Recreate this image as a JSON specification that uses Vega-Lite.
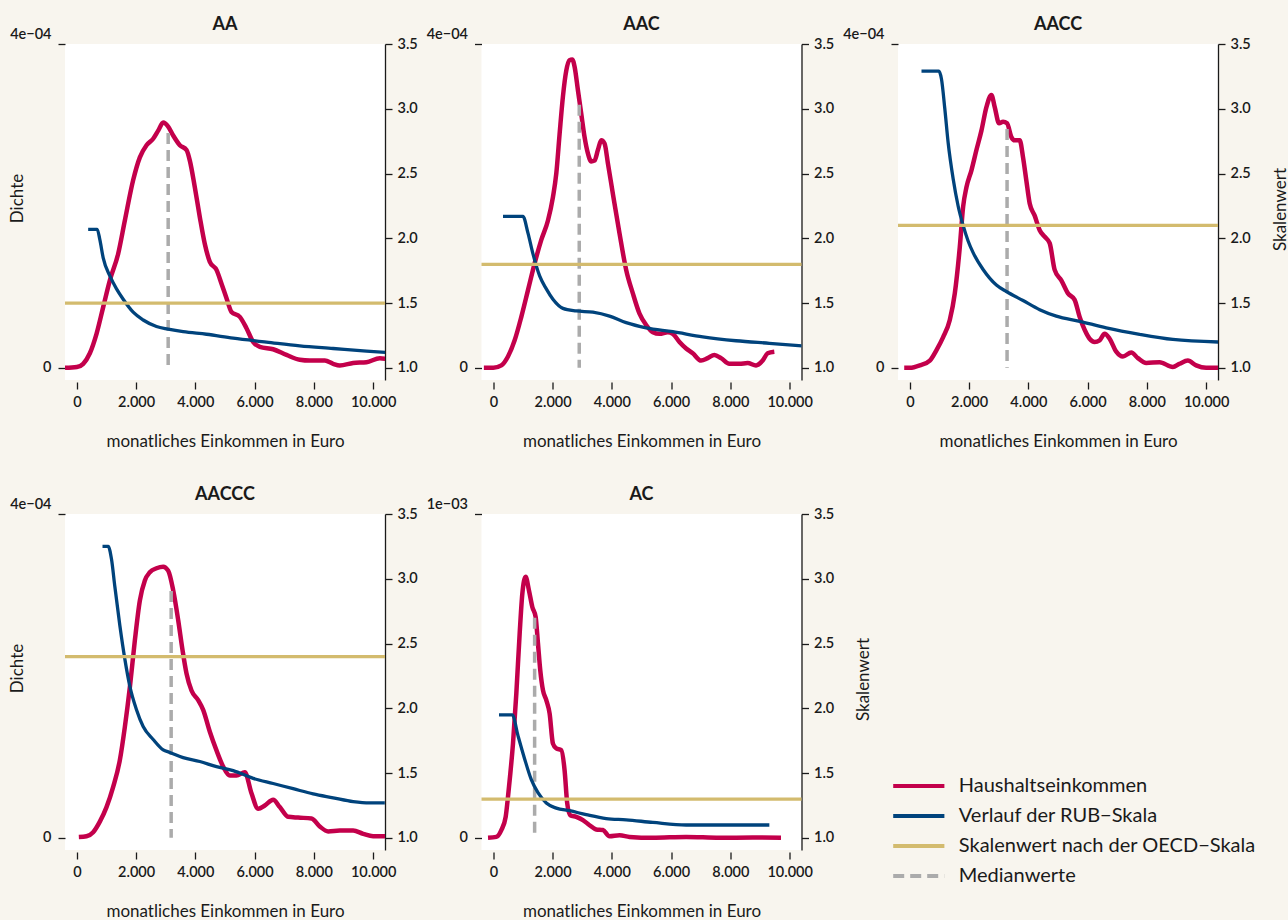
{
  "$schema": "https://vega.github.io/schema/vega-lite/v6.json",
  "background": "#F8F5EE",
  "padding": {"left": 8, "top": 16, "right": 2, "bottom": 0},
  "columns": 3,
  "bounds": "flush",
  "spacing": {"row": 134, "column": 96.5},
  "datasets": {
    "density": [
      {"g":"AA","x":-400,"d":0},{"g":"AA","x":0,"d":0.01e-4},{"g":"AA","x":214,"d":0.05e-4},{"g":"AA","x":439,"d":0.18e-4},{"g":"AA","x":664,"d":0.42e-4},{"g":"AA","x":889,"d":0.75e-4},{"g":"AA","x":1114,"d":1.08e-4},{"g":"AA","x":1395,"d":1.41e-4},{"g":"AA","x":1620,"d":1.82e-4},{"g":"AA","x":1901,"d":2.32e-4},{"g":"AA","x":2126,"d":2.60e-4},{"g":"AA","x":2351,"d":2.75e-4},{"g":"AA","x":2576,"d":2.83e-4},{"g":"AA","x":2745,"d":2.93e-4},{"g":"AA","x":2913,"d":3.03e-4},{"g":"AA","x":3082,"d":2.98e-4},{"g":"AA","x":3251,"d":2.87e-4},{"g":"AA","x":3476,"d":2.75e-4},{"g":"AA","x":3701,"d":2.69e-4},{"g":"AA","x":3813,"d":2.56e-4},{"g":"AA","x":3982,"d":2.23e-4},{"g":"AA","x":4151,"d":1.86e-4},{"g":"AA","x":4319,"d":1.53e-4},{"g":"AA","x":4488,"d":1.31e-4},{"g":"AA","x":4713,"d":1.21e-4},{"g":"AA","x":4882,"d":1.04e-4},{"g":"AA","x":5051,"d":0.86e-4},{"g":"AA","x":5219,"d":0.69e-4},{"g":"AA","x":5500,"d":0.63e-4},{"g":"AA","x":5725,"d":0.49e-4},{"g":"AA","x":5950,"d":0.32e-4},{"g":"AA","x":6175,"d":0.26e-4},{"g":"AA","x":6625,"d":0.23e-4},{"g":"AA","x":7075,"d":0.16e-4},{"g":"AA","x":7525,"d":0.10e-4},{"g":"AA","x":7863,"d":0.09e-4},{"g":"AA","x":8369,"d":0.09e-4},{"g":"AA","x":8650,"d":0.05e-4},{"g":"AA","x":8875,"d":0.03e-4},{"g":"AA","x":9325,"d":0.06e-4},{"g":"AA","x":9775,"d":0.07e-4},{"g":"AA","x":10225,"d":0.12e-4},{"g":"AA","x":10450,"d":0.11e-4},
      {"g":"AAC","x":-320,"d":0},{"g":"AAC","x":0,"d":0},{"g":"AAC","x":270,"d":0.03e-4},{"g":"AAC","x":494,"d":0.14e-4},{"g":"AAC","x":719,"d":0.34e-4},{"g":"AAC","x":944,"d":0.63e-4},{"g":"AAC","x":1169,"d":0.96e-4},{"g":"AAC","x":1393,"d":1.29e-4},{"g":"AAC","x":1618,"d":1.58e-4},{"g":"AAC","x":1843,"d":1.82e-4},{"g":"AAC","x":2011,"d":2.11e-4},{"g":"AAC","x":2124,"d":2.40e-4},{"g":"AAC","x":2236,"d":2.89e-4},{"g":"AAC","x":2348,"d":3.35e-4},{"g":"AAC","x":2461,"d":3.67e-4},{"g":"AAC","x":2573,"d":3.80e-4},{"g":"AAC","x":2663,"d":3.81e-4},{"g":"AAC","x":2742,"d":3.72e-4},{"g":"AAC","x":2854,"d":3.43e-4},{"g":"AAC","x":2966,"d":3.14e-4},{"g":"AAC","x":3079,"d":2.85e-4},{"g":"AAC","x":3191,"d":2.65e-4},{"g":"AAC","x":3303,"d":2.55e-4},{"g":"AAC","x":3416,"d":2.56e-4},{"g":"AAC","x":3528,"d":2.69e-4},{"g":"AAC","x":3640,"d":2.81e-4},{"g":"AAC","x":3753,"d":2.77e-4},{"g":"AAC","x":3865,"d":2.53e-4},{"g":"AAC","x":4034,"d":2.15e-4},{"g":"AAC","x":4258,"d":1.66e-4},{"g":"AAC","x":4483,"d":1.21e-4},{"g":"AAC","x":4708,"d":0.92e-4},{"g":"AAC","x":4933,"d":0.67e-4},{"g":"AAC","x":5157,"d":0.53e-4},{"g":"AAC","x":5382,"d":0.44e-4},{"g":"AAC","x":5607,"d":0.42e-4},{"g":"AAC","x":5888,"d":0.44e-4},{"g":"AAC","x":6056,"d":0.42e-4},{"g":"AAC","x":6281,"d":0.32e-4},{"g":"AAC","x":6506,"d":0.24e-4},{"g":"AAC","x":6730,"d":0.18e-4},{"g":"AAC","x":7011,"d":0.09e-4},{"g":"AAC","x":7236,"d":0.12e-4},{"g":"AAC","x":7461,"d":0.16e-4},{"g":"AAC","x":7685,"d":0.12e-4},{"g":"AAC","x":7966,"d":0.05e-4},{"g":"AAC","x":8303,"d":0.05e-4},{"g":"AAC","x":8584,"d":0.06e-4},{"g":"AAC","x":8865,"d":0.03e-4},{"g":"AAC","x":9090,"d":0.09e-4},{"g":"AAC","x":9258,"d":0.18e-4},{"g":"AAC","x":9483,"d":0.20e-4},
      {"g":"AACC","x":-190,"d":0},{"g":"AACC","x":0,"d":0},{"g":"AACC","x":337,"d":0.03e-4},{"g":"AACC","x":674,"d":0.09e-4},{"g":"AACC","x":899,"d":0.22e-4},{"g":"AACC","x":1124,"d":0.38e-4},{"g":"AACC","x":1348,"d":0.59e-4},{"g":"AACC","x":1517,"d":0.92e-4},{"g":"AACC","x":1685,"d":1.49e-4},{"g":"AACC","x":1798,"d":1.99e-4},{"g":"AACC","x":1910,"d":2.23e-4},{"g":"AACC","x":2079,"d":2.44e-4},{"g":"AACC","x":2247,"d":2.69e-4},{"g":"AACC","x":2416,"d":2.93e-4},{"g":"AACC","x":2584,"d":3.22e-4},{"g":"AACC","x":2753,"d":3.37e-4},{"g":"AACC","x":2865,"d":3.22e-4},{"g":"AACC","x":3011,"d":3.02e-4},{"g":"AACC","x":3146,"d":3.04e-4},{"g":"AACC","x":3281,"d":3.02e-4},{"g":"AACC","x":3427,"d":2.85e-4},{"g":"AACC","x":3539,"d":2.81e-4},{"g":"AACC","x":3708,"d":2.81e-4},{"g":"AACC","x":3820,"d":2.60e-4},{"g":"AACC","x":3933,"d":2.31e-4},{"g":"AACC","x":4045,"d":2.03e-4},{"g":"AACC","x":4213,"d":1.88e-4},{"g":"AACC","x":4382,"d":1.70e-4},{"g":"AACC","x":4551,"d":1.62e-4},{"g":"AACC","x":4719,"d":1.54e-4},{"g":"AACC","x":4888,"d":1.21e-4},{"g":"AACC","x":5112,"d":1.08e-4},{"g":"AACC","x":5337,"d":0.92e-4},{"g":"AACC","x":5562,"d":0.84e-4},{"g":"AACC","x":5730,"d":0.63e-4},{"g":"AACC","x":5899,"d":0.47e-4},{"g":"AACC","x":6067,"d":0.36e-4},{"g":"AACC","x":6236,"d":0.32e-4},{"g":"AACC","x":6404,"d":0.34e-4},{"g":"AACC","x":6573,"d":0.42e-4},{"g":"AACC","x":6742,"d":0.36e-4},{"g":"AACC","x":6966,"d":0.20e-4},{"g":"AACC","x":7191,"d":0.14e-4},{"g":"AACC","x":7472,"d":0.19e-4},{"g":"AACC","x":7697,"d":0.12e-4},{"g":"AACC","x":7978,"d":0.06e-4},{"g":"AACC","x":8427,"d":0.07e-4},{"g":"AACC","x":8876,"d":0.01e-4},{"g":"AACC","x":9101,"d":0.05e-4},{"g":"AACC","x":9382,"d":0.09e-4},{"g":"AACC","x":9663,"d":0.03e-4},{"g":"AACC","x":10000,"d":0},{"g":"AACC","x":10400,"d":0},
      {"g":"AACCC","x":67,"d":0.01e-4},{"g":"AACCC","x":326,"d":0.02e-4},{"g":"AACCC","x":551,"d":0.07e-4},{"g":"AACCC","x":776,"d":0.20e-4},{"g":"AACCC","x":1001,"d":0.38e-4},{"g":"AACCC","x":1226,"d":0.63e-4},{"g":"AACCC","x":1451,"d":0.96e-4},{"g":"AACCC","x":1620,"d":1.37e-4},{"g":"AACCC","x":1789,"d":1.86e-4},{"g":"AACCC","x":1958,"d":2.44e-4},{"g":"AACCC","x":2126,"d":2.93e-4},{"g":"AACCC","x":2295,"d":3.18e-4},{"g":"AACCC","x":2463,"d":3.28e-4},{"g":"AACCC","x":2688,"d":3.33e-4},{"g":"AACCC","x":2913,"d":3.35e-4},{"g":"AACCC","x":3082,"d":3.30e-4},{"g":"AACCC","x":3251,"d":3.06e-4},{"g":"AACCC","x":3420,"d":2.69e-4},{"g":"AACCC","x":3566,"d":2.32e-4},{"g":"AACCC","x":3701,"d":2.03e-4},{"g":"AACCC","x":3869,"d":1.82e-4},{"g":"AACCC","x":4094,"d":1.70e-4},{"g":"AACCC","x":4263,"d":1.58e-4},{"g":"AACCC","x":4488,"d":1.31e-4},{"g":"AACCC","x":4713,"d":1.08e-4},{"g":"AACCC","x":4938,"d":0.88e-4},{"g":"AACCC","x":5163,"d":0.77e-4},{"g":"AACCC","x":5388,"d":0.77e-4},{"g":"AACCC","x":5669,"d":0.81e-4},{"g":"AACCC","x":5894,"d":0.55e-4},{"g":"AACCC","x":6119,"d":0.36e-4},{"g":"AACCC","x":6344,"d":0.40e-4},{"g":"AACCC","x":6625,"d":0.47e-4},{"g":"AACCC","x":6850,"d":0.38e-4},{"g":"AACCC","x":7132,"d":0.26e-4},{"g":"AACCC","x":7469,"d":0.25e-4},{"g":"AACCC","x":7919,"d":0.24e-4},{"g":"AACCC","x":8200,"d":0.14e-4},{"g":"AACCC","x":8481,"d":0.08e-4},{"g":"AACCC","x":8875,"d":0.09e-4},{"g":"AACCC","x":9325,"d":0.09e-4},{"g":"AACCC","x":9663,"d":0.05e-4},{"g":"AACCC","x":10000,"d":0.02e-4},{"g":"AACCC","x":10400,"d":0.02e-4},
      {"g":"AC","x":-180,"d":0},{"g":"AC","x":101,"d":0.03e-4},{"g":"AC","x":270,"d":0.24e-4},{"g":"AC","x":416,"d":0.65e-4},{"g":"AC","x":494,"d":1.27e-4},{"g":"AC","x":573,"d":1.99e-4},{"g":"AC","x":663,"d":2.91e-4},{"g":"AC","x":775,"d":4.45e-4},{"g":"AC","x":888,"d":6.31e-4},{"g":"AC","x":978,"d":7.54e-4},{"g":"AC","x":1090,"d":8.06e-4},{"g":"AC","x":1202,"d":7.64e-4},{"g":"AC","x":1315,"d":7.13e-4},{"g":"AC","x":1427,"d":6.82e-4},{"g":"AC","x":1506,"d":6.00e-4},{"g":"AC","x":1584,"d":5.17e-4},{"g":"AC","x":1674,"d":4.56e-4},{"g":"AC","x":1787,"d":4.25e-4},{"g":"AC","x":1899,"d":3.84e-4},{"g":"AC","x":2011,"d":2.91e-4},{"g":"AC","x":2124,"d":2.76e-4},{"g":"AC","x":2292,"d":2.71e-4},{"g":"AC","x":2404,"d":2.09e-4},{"g":"AC","x":2494,"d":1.06e-4},{"g":"AC","x":2596,"d":0.70e-4},{"g":"AC","x":2798,"d":0.65e-4},{"g":"AC","x":3022,"d":0.55e-4},{"g":"AC","x":3247,"d":0.39e-4},{"g":"AC","x":3472,"d":0.26e-4},{"g":"AC","x":3697,"d":0.24e-4},{"g":"AC","x":3921,"d":0.05e-4},{"g":"AC","x":4258,"d":0.08e-4},{"g":"AC","x":4596,"d":0.03e-4},{"g":"AC","x":5382,"d":0},{"g":"AC","x":6506,"d":0.03e-4},{"g":"AC","x":7629,"d":0},{"g":"AC","x":8753,"d":0.01e-4},{"g":"AC","x":9708,"d":0}
    ],
    "rub": [
      {"g":"AA","x":382,"s":2.07},{"g":"AA","x":686,"s":2.07},{"g":"AA","x":776,"s":1.99},{"g":"AA","x":889,"s":1.85},{"g":"AA","x":1114,"s":1.71},{"g":"AA","x":1339,"s":1.61},{"g":"AA","x":1564,"s":1.53},{"g":"AA","x":1901,"s":1.43},{"g":"AA","x":2238,"s":1.37},{"g":"AA","x":2688,"s":1.32},{"g":"AA","x":3082,"s":1.30},{"g":"AA","x":3588,"s":1.28},{"g":"AA","x":4376,"s":1.26},{"g":"AA","x":5276,"s":1.23},{"g":"AA","x":6400,"s":1.20},{"g":"AA","x":7525,"s":1.17},{"g":"AA","x":8650,"s":1.15},{"g":"AA","x":9775,"s":1.13},{"g":"AA","x":10450,"s":1.12},
      {"g":"AAC","x":326,"s":2.17},{"g":"AAC","x":1000,"s":2.17},{"g":"AAC","x":1169,"s":2.04},{"g":"AAC","x":1337,"s":1.88},{"g":"AAC","x":1562,"s":1.71},{"g":"AAC","x":1787,"s":1.61},{"g":"AAC","x":2011,"s":1.53},{"g":"AAC","x":2348,"s":1.46},{"g":"AAC","x":2798,"s":1.44},{"g":"AAC","x":3360,"s":1.43},{"g":"AAC","x":3921,"s":1.40},{"g":"AAC","x":4483,"s":1.35},{"g":"AAC","x":5157,"s":1.31},{"g":"AAC","x":6056,"s":1.28},{"g":"AAC","x":7067,"s":1.24},{"g":"AAC","x":8191,"s":1.21},{"g":"AAC","x":9315,"s":1.19},{"g":"AAC","x":10416,"s":1.17},
      {"g":"AACC","x":393,"s":3.29},{"g":"AACC","x":978,"s":3.29},{"g":"AACC","x":1067,"s":3.23},{"g":"AACC","x":1180,"s":3.00},{"g":"AACC","x":1292,"s":2.74},{"g":"AACC","x":1461,"s":2.46},{"g":"AACC","x":1629,"s":2.25},{"g":"AACC","x":1798,"s":2.10},{"g":"AACC","x":1966,"s":1.98},{"g":"AACC","x":2135,"s":1.89},{"g":"AACC","x":2472,"s":1.76},{"g":"AACC","x":2921,"s":1.64},{"g":"AACC","x":3258,"s":1.59},{"g":"AACC","x":3820,"s":1.52},{"g":"AACC","x":4382,"s":1.45},{"g":"AACC","x":4944,"s":1.40},{"g":"AACC","x":5730,"s":1.36},{"g":"AACC","x":6629,"s":1.31},{"g":"AACC","x":7753,"s":1.26},{"g":"AACC","x":8876,"s":1.22},{"g":"AACC","x":10416,"s":1.20},
      {"g":"AACCC","x":866,"s":3.25},{"g":"AACCC","x":1057,"s":3.25},{"g":"AACCC","x":1170,"s":3.15},{"g":"AACCC","x":1282,"s":2.94},{"g":"AACCC","x":1451,"s":2.64},{"g":"AACCC","x":1620,"s":2.38},{"g":"AACCC","x":1789,"s":2.17},{"g":"AACCC","x":2013,"s":1.99},{"g":"AACCC","x":2238,"s":1.86},{"g":"AACCC","x":2576,"s":1.76},{"g":"AACCC","x":2913,"s":1.68},{"g":"AACCC","x":3138,"s":1.66},{"g":"AACCC","x":3588,"s":1.62},{"g":"AACCC","x":4151,"s":1.59},{"g":"AACCC","x":4713,"s":1.55},{"g":"AACCC","x":5276,"s":1.52},{"g":"AACCC","x":5950,"s":1.46},{"g":"AACCC","x":6625,"s":1.42},{"g":"AACCC","x":7300,"s":1.38},{"g":"AACCC","x":7975,"s":1.34},{"g":"AACCC","x":8650,"s":1.31},{"g":"AACCC","x":9325,"s":1.28},{"g":"AACCC","x":9888,"s":1.27},{"g":"AACCC","x":10394,"s":1.27},
      {"g":"AC","x":191,"s":1.95},{"g":"AC","x":640,"s":1.95},{"g":"AC","x":831,"s":1.79},{"g":"AC","x":1056,"s":1.61},{"g":"AC","x":1281,"s":1.45},{"g":"AC","x":1506,"s":1.35},{"g":"AC","x":1787,"s":1.27},{"g":"AC","x":2124,"s":1.23},{"g":"AC","x":2573,"s":1.21},{"g":"AC","x":3135,"s":1.18},{"g":"AC","x":3809,"s":1.15},{"g":"AC","x":4483,"s":1.14},{"g":"AC","x":5382,"s":1.12},{"g":"AC","x":6506,"s":1.10},{"g":"AC","x":7629,"s":1.10},{"g":"AC","x":9315,"s":1.10}
    ],
    "oecd": [
      {"g":"AA","s":1.5},{"g":"AAC","s":1.8},{"g":"AACC","s":2.1},{"g":"AACCC","s":2.4},{"g":"AC","s":1.3}
    ],
    "median": [
      {"g":"AA","x":3082,"d":2.9e-4},{"g":"AAC","x":2899,"d":3.25e-4},{"g":"AACC","x":3281,"d":2.95e-4},{"g":"AACCC","x":3183,"d":3.05e-4},{"g":"AC","x":1393,"d":6.8e-4}
    ],
    "legend": [
      {"k":1,"label":"Haushaltseinkommen"},{"k":2,"label":"Verlauf der RUB−Skala"},{"k":3,"label":"Skalenwert nach der OECD−Skala"},{"k":4,"label":"Medianwerte"}
    ]
  },
  "concat": [
    {
      "width": 320, "height": 336,
      "view": {"fill": "white", "stroke": null},
      "title": {"text": "AA"},
      "resolve": {"scale": {"y": "independent"}},
      "layer": [
        {"layer": [
          {"data": {"name": "density"}, "transform": [{"filter": "datum.g == 'AA'"}],
           "mark": {"type": "line", "color": "#C3004B", "strokeWidth": 4.5, "clip": true, "interpolate": "monotone"},
           "encoding": {
             "x": {"field": "x", "type": "quantitative", "scale": {"domain": [-400, 10400], "nice": false, "zero": false}, "axis": {"values": [0,2000,4000,6000,8000,10000], "domain": false, "offset": 2, "labelPadding": 6, "labelFlush": false, "labelExpr": "replace(format(datum.value, ','), ',', '.')", "title": "monatliches Einkommen in Euro", "titlePadding": 25}},
             "y": {"field": "d", "type": "quantitative", "scale": {"domain": [-0.000015, 0.0004], "nice": false, "zero": false}, "axis": {"orient": "left", "values": [0, 0.0004], "domain": false, "labelPadding": 7, "labelOffset": {"condition": {"test": "datum.value > 0", "value": -10}, "value": 0}, "labelExpr": "datum.value == 0 ? '0' : replace(replace(format(datum.value, '.0e'), '−', '-'), '-', '−0')", "title": "Dichte", "titleX": -48, "titleY": 154, "titleBaseline": "middle"}}
           }},
          {"data": {"name": "median"}, "transform": [{"filter": "datum.g == 'AA'"}],
           "mark": {"type": "rule", "color": "#ABABAB", "strokeWidth": 3.5, "strokeDash": [11, 6]},
           "encoding": {"x": {"field": "x", "type": "quantitative"}, "y": {"field": "d", "type": "quantitative"}, "y2": {"datum": 0}}},
          {"mark": {"type": "rule", "color": "#1a1a1a", "strokeWidth": 1.3},
           "encoding": {"x": {"datum": -400, "type": "quantitative"}, "y": {"datum": 0, "type": "quantitative"}, "y2": {"datum": 0.0004}}}
        ]},
        {"layer": [
          {"data": {"name": "rub"}, "transform": [{"filter": "datum.g == 'AA'"}],
           "mark": {"type": "line", "color": "#00437C", "strokeWidth": 3.3, "clip": true, "interpolate": "monotone"},
           "encoding": {
             "x": {"field": "x", "type": "quantitative"},
             "y": {"field": "s", "type": "quantitative", "scale": {"domain": [0.907, 3.5], "nice": false, "zero": false}, "axis": {"orient": "right", "values": [1,1.5,2,2.5,3,3.5], "format": ".1f", "labelPadding": 5, "title": null}}
           }},
          {"data": {"name": "oecd"}, "transform": [{"filter": "datum.g == 'AA'"}],
           "mark": {"type": "rule", "color": "#D3BB6E", "strokeWidth": 3.3},
           "encoding": {"y": {"field": "s", "type": "quantitative"}}},
          {"mark": {"type": "rule", "color": "#1a1a1a", "strokeWidth": 1.3},
           "encoding": {"x": {"datum": 0, "type": "quantitative"}, "x2": {"datum": 10000}, "y": {"datum": 0.8916, "type": "quantitative"}}}
        ]}
      ]
    },
    {
      "width": 320, "height": 336,
      "view": {"fill": "white", "stroke": null},
      "title": {"text": "AAC"},
      "resolve": {"scale": {"y": "independent"}},
      "layer": [
        {"layer": [
          {"data": {"name": "density"}, "transform": [{"filter": "datum.g == 'AAC'"}],
           "mark": {"type": "line", "color": "#C3004B", "strokeWidth": 4.5, "clip": true, "interpolate": "monotone"},
           "encoding": {
             "x": {"field": "x", "type": "quantitative", "scale": {"domain": [-400, 10400], "nice": false, "zero": false}, "axis": {"values": [0,2000,4000,6000,8000,10000], "domain": false, "offset": 2, "labelPadding": 6, "labelFlush": false, "labelExpr": "replace(format(datum.value, ','), ',', '.')", "title": "monatliches Einkommen in Euro", "titlePadding": 25}},
             "y": {"field": "d", "type": "quantitative", "scale": {"domain": [-0.000015, 0.0004], "nice": false, "zero": false}, "axis": {"orient": "left", "values": [0, 0.0004], "domain": false, "labelPadding": 7, "labelOffset": {"condition": {"test": "datum.value > 0", "value": -10}, "value": 0}, "labelExpr": "datum.value == 0 ? '0' : replace(replace(format(datum.value, '.0e'), '−', '-'), '-', '−0')", "title": null}}
           }},
          {"data": {"name": "median"}, "transform": [{"filter": "datum.g == 'AAC'"}],
           "mark": {"type": "rule", "color": "#ABABAB", "strokeWidth": 3.5, "strokeDash": [11, 6]},
           "encoding": {"x": {"field": "x", "type": "quantitative"}, "y": {"field": "d", "type": "quantitative"}, "y2": {"datum": 0}}},
          {"mark": {"type": "rule", "color": "#1a1a1a", "strokeWidth": 1.3},
           "encoding": {"x": {"datum": -400, "type": "quantitative"}, "y": {"datum": 0, "type": "quantitative"}, "y2": {"datum": 0.0004}}}
        ]},
        {"layer": [
          {"data": {"name": "rub"}, "transform": [{"filter": "datum.g == 'AAC'"}],
           "mark": {"type": "line", "color": "#00437C", "strokeWidth": 3.3, "clip": true, "interpolate": "monotone"},
           "encoding": {
             "x": {"field": "x", "type": "quantitative"},
             "y": {"field": "s", "type": "quantitative", "scale": {"domain": [0.907, 3.5], "nice": false, "zero": false}, "axis": {"orient": "right", "values": [1,1.5,2,2.5,3,3.5], "format": ".1f", "labelPadding": 5, "title": null}}
           }},
          {"data": {"name": "oecd"}, "transform": [{"filter": "datum.g == 'AAC'"}],
           "mark": {"type": "rule", "color": "#D3BB6E", "strokeWidth": 3.3},
           "encoding": {"y": {"field": "s", "type": "quantitative"}}},
          {"mark": {"type": "rule", "color": "#1a1a1a", "strokeWidth": 1.3},
           "encoding": {"x": {"datum": 0, "type": "quantitative"}, "x2": {"datum": 10000}, "y": {"datum": 0.8916, "type": "quantitative"}}}
        ]}
      ]
    },
    {
      "width": 320, "height": 336,
      "view": {"fill": "white", "stroke": null},
      "title": {"text": "AACC"},
      "resolve": {"scale": {"y": "independent"}},
      "layer": [
        {"layer": [
          {"data": {"name": "density"}, "transform": [{"filter": "datum.g == 'AACC'"}],
           "mark": {"type": "line", "color": "#C3004B", "strokeWidth": 4.5, "clip": true, "interpolate": "monotone"},
           "encoding": {
             "x": {"field": "x", "type": "quantitative", "scale": {"domain": [-400, 10400], "nice": false, "zero": false}, "axis": {"values": [0,2000,4000,6000,8000,10000], "domain": false, "offset": 2, "labelPadding": 6, "labelFlush": false, "labelExpr": "replace(format(datum.value, ','), ',', '.')", "title": "monatliches Einkommen in Euro", "titlePadding": 25}},
             "y": {"field": "d", "type": "quantitative", "scale": {"domain": [-0.000015, 0.0004], "nice": false, "zero": false}, "axis": {"orient": "left", "values": [0, 0.0004], "domain": false, "labelPadding": 7, "labelOffset": {"condition": {"test": "datum.value > 0", "value": -10}, "value": 0}, "labelExpr": "datum.value == 0 ? '0' : replace(replace(format(datum.value, '.0e'), '−', '-'), '-', '−0')", "title": null}}
           }},
          {"data": {"name": "median"}, "transform": [{"filter": "datum.g == 'AACC'"}],
           "mark": {"type": "rule", "color": "#ABABAB", "strokeWidth": 3.5, "strokeDash": [11, 6]},
           "encoding": {"x": {"field": "x", "type": "quantitative"}, "y": {"field": "d", "type": "quantitative"}, "y2": {"datum": 0}}},
          {"mark": {"type": "rule", "color": "#1a1a1a", "strokeWidth": 1.3},
           "encoding": {"x": {"datum": -400, "type": "quantitative"}, "y": {"datum": 0, "type": "quantitative"}, "y2": {"datum": 0.0004}}}
        ]},
        {"layer": [
          {"data": {"name": "rub"}, "transform": [{"filter": "datum.g == 'AACC'"}],
           "mark": {"type": "line", "color": "#00437C", "strokeWidth": 3.3, "clip": true, "interpolate": "monotone"},
           "encoding": {
             "x": {"field": "x", "type": "quantitative"},
             "y": {"field": "s", "type": "quantitative", "scale": {"domain": [0.907, 3.5], "nice": false, "zero": false}, "axis": {"orient": "right", "values": [1,1.5,2,2.5,3,3.5], "format": ".1f", "labelPadding": 5, "title": "Skalenwert", "titleAngle": 270, "titleX": 62, "titleY": 165, "titleBaseline": "middle"}}
           }},
          {"data": {"name": "oecd"}, "transform": [{"filter": "datum.g == 'AACC'"}],
           "mark": {"type": "rule", "color": "#D3BB6E", "strokeWidth": 3.3},
           "encoding": {"y": {"field": "s", "type": "quantitative"}}},
          {"mark": {"type": "rule", "color": "#1a1a1a", "strokeWidth": 1.3},
           "encoding": {"x": {"datum": 0, "type": "quantitative"}, "x2": {"datum": 10000}, "y": {"datum": 0.8916, "type": "quantitative"}}}
        ]}
      ]
    },
    {
      "width": 320, "height": 336,
      "view": {"fill": "white", "stroke": null},
      "title": {"text": "AACCC"},
      "resolve": {"scale": {"y": "independent"}},
      "layer": [
        {"layer": [
          {"data": {"name": "density"}, "transform": [{"filter": "datum.g == 'AACCC'"}],
           "mark": {"type": "line", "color": "#C3004B", "strokeWidth": 4.5, "clip": true, "interpolate": "monotone"},
           "encoding": {
             "x": {"field": "x", "type": "quantitative", "scale": {"domain": [-400, 10400], "nice": false, "zero": false}, "axis": {"values": [0,2000,4000,6000,8000,10000], "domain": false, "offset": 2, "labelPadding": 6, "labelFlush": false, "labelExpr": "replace(format(datum.value, ','), ',', '.')", "title": "monatliches Einkommen in Euro", "titlePadding": 25}},
             "y": {"field": "d", "type": "quantitative", "scale": {"domain": [-0.000015, 0.0004], "nice": false, "zero": false}, "axis": {"orient": "left", "values": [0, 0.0004], "domain": false, "labelPadding": 7, "labelOffset": {"condition": {"test": "datum.value > 0", "value": -10}, "value": 0}, "labelExpr": "datum.value == 0 ? '0' : replace(replace(format(datum.value, '.0e'), '−', '-'), '-', '−0')", "title": "Dichte", "titleX": -48, "titleY": 154, "titleBaseline": "middle"}}
           }},
          {"data": {"name": "median"}, "transform": [{"filter": "datum.g == 'AACCC'"}],
           "mark": {"type": "rule", "color": "#ABABAB", "strokeWidth": 3.5, "strokeDash": [11, 6]},
           "encoding": {"x": {"field": "x", "type": "quantitative"}, "y": {"field": "d", "type": "quantitative"}, "y2": {"datum": 0}}},
          {"mark": {"type": "rule", "color": "#1a1a1a", "strokeWidth": 1.3},
           "encoding": {"x": {"datum": -400, "type": "quantitative"}, "y": {"datum": 0, "type": "quantitative"}, "y2": {"datum": 0.0004}}}
        ]},
        {"layer": [
          {"data": {"name": "rub"}, "transform": [{"filter": "datum.g == 'AACCC'"}],
           "mark": {"type": "line", "color": "#00437C", "strokeWidth": 3.3, "clip": true, "interpolate": "monotone"},
           "encoding": {
             "x": {"field": "x", "type": "quantitative"},
             "y": {"field": "s", "type": "quantitative", "scale": {"domain": [0.907, 3.5], "nice": false, "zero": false}, "axis": {"orient": "right", "values": [1,1.5,2,2.5,3,3.5], "format": ".1f", "labelPadding": 5, "title": null}}
           }},
          {"data": {"name": "oecd"}, "transform": [{"filter": "datum.g == 'AACCC'"}],
           "mark": {"type": "rule", "color": "#D3BB6E", "strokeWidth": 3.3},
           "encoding": {"y": {"field": "s", "type": "quantitative"}}},
          {"mark": {"type": "rule", "color": "#1a1a1a", "strokeWidth": 1.3},
           "encoding": {"x": {"datum": 0, "type": "quantitative"}, "x2": {"datum": 10000}, "y": {"datum": 0.8916, "type": "quantitative"}}}
        ]}
      ]
    },
    {
      "width": 320, "height": 336,
      "view": {"fill": "white", "stroke": null},
      "title": {"text": "AC"},
      "resolve": {"scale": {"y": "independent"}},
      "layer": [
        {"layer": [
          {"data": {"name": "density"}, "transform": [{"filter": "datum.g == 'AC'"}],
           "mark": {"type": "line", "color": "#C3004B", "strokeWidth": 4.5, "clip": true, "interpolate": "monotone"},
           "encoding": {
             "x": {"field": "x", "type": "quantitative", "scale": {"domain": [-400, 10400], "nice": false, "zero": false}, "axis": {"values": [0,2000,4000,6000,8000,10000], "domain": false, "offset": 2, "labelPadding": 6, "labelFlush": false, "labelExpr": "replace(format(datum.value, ','), ',', '.')", "title": "monatliches Einkommen in Euro", "titlePadding": 25}},
             "y": {"field": "d", "type": "quantitative", "scale": {"domain": [-0.0000375, 0.001], "nice": false, "zero": false}, "axis": {"orient": "left", "values": [0, 0.001], "domain": false, "labelPadding": 7, "labelOffset": {"condition": {"test": "datum.value > 0", "value": -10}, "value": 0}, "labelExpr": "datum.value == 0 ? '0' : replace(replace(format(datum.value, '.0e'), '−', '-'), '-', '−0')", "title": null}}
           }},
          {"data": {"name": "median"}, "transform": [{"filter": "datum.g == 'AC'"}],
           "mark": {"type": "rule", "color": "#ABABAB", "strokeWidth": 3.5, "strokeDash": [11, 6]},
           "encoding": {"x": {"field": "x", "type": "quantitative"}, "y": {"field": "d", "type": "quantitative"}, "y2": {"datum": 0}}},
          {"mark": {"type": "rule", "color": "#1a1a1a", "strokeWidth": 1.3},
           "encoding": {"x": {"datum": -400, "type": "quantitative"}, "y": {"datum": 0, "type": "quantitative"}, "y2": {"datum": 0.001}}}
        ]},
        {"layer": [
          {"data": {"name": "rub"}, "transform": [{"filter": "datum.g == 'AC'"}],
           "mark": {"type": "line", "color": "#00437C", "strokeWidth": 3.3, "clip": true, "interpolate": "monotone"},
           "encoding": {
             "x": {"field": "x", "type": "quantitative"},
             "y": {"field": "s", "type": "quantitative", "scale": {"domain": [0.907, 3.5], "nice": false, "zero": false}, "axis": {"orient": "right", "values": [1,1.5,2,2.5,3,3.5], "format": ".1f", "labelPadding": 5, "title": "Skalenwert", "titleAngle": 270, "titleX": 62, "titleY": 165, "titleBaseline": "middle"}}
           }},
          {"data": {"name": "oecd"}, "transform": [{"filter": "datum.g == 'AC'"}],
           "mark": {"type": "rule", "color": "#D3BB6E", "strokeWidth": 3.3},
           "encoding": {"y": {"field": "s", "type": "quantitative"}}},
          {"mark": {"type": "rule", "color": "#1a1a1a", "strokeWidth": 1.3},
           "encoding": {"x": {"datum": 0, "type": "quantitative"}, "x2": {"datum": 10000}, "y": {"datum": 0.8916, "type": "quantitative"}}}
        ]}
      ]
    },
    {
      "width": 320, "height": 336,
      "view": {"fill": null, "stroke": null},
      "data": {"name": "legend"},
      "layer": [
        {"mark": {"type": "rule", "strokeWidth": 4},
         "encoding": {
           "x": {"datum": -1.5, "type": "quantitative", "scale": {"domain": [0, 100], "nice": false, "zero": false}, "axis": null},
           "x2": {"datum": 14.5},
           "y": {"field": "k", "type": "quantitative", "scale": {"domain": [-8.07, 3.13], "reverse": true, "nice": false, "zero": false}, "axis": null},
           "color": {"field": "label", "type": "nominal", "scale": {"domain": ["Haushaltseinkommen", "Verlauf der RUB−Skala", "Skalenwert nach der OECD−Skala", "Medianwerte"], "range": ["#C3004B", "#00437C", "#D3BB6E", "#ABABAB"]}, "legend": null},
           "strokeDash": {"field": "label", "type": "nominal", "scale": {"domain": ["Haushaltseinkommen", "Verlauf der RUB−Skala", "Skalenwert nach der OECD−Skala", "Medianwerte"], "range": [[1, 0], [1, 0], [1, 0], [11, 6]]}, "legend": null}
         }},
        {"mark": {"type": "text", "align": "left", "baseline": "middle", "font": "Lato", "fontSize": 20, "color": "#1a1a1a"},
         "encoding": {
           "x": {"datum": 19, "type": "quantitative"},
           "y": {"field": "k", "type": "quantitative"},
           "text": {"field": "label"}
         }}
      ]
    }
  ],
  "config": {
    "font": "Lato",
    "view": {"stroke": null},
    "axis": {"labelFont": "Lato", "labelFontSize": 14.5, "labelFontWeight": 600, "labelColor": "#1a1a1a", "titleFont": "Lato", "titleFontSize": 17, "titleFontWeight": "normal", "titleColor": "#1a1a1a", "domainColor": "#1a1a1a", "domainWidth": 1.3, "tickColor": "#1a1a1a", "tickWidth": 1.3, "tickSize": 7, "grid": false, "labelOverlap": false},
    "title": {"font": "Lato", "fontSize": 18, "fontWeight": "bold", "color": "#1a1a1a", "anchor": "middle", "frame": "group", "offset": -8}
  }
}
